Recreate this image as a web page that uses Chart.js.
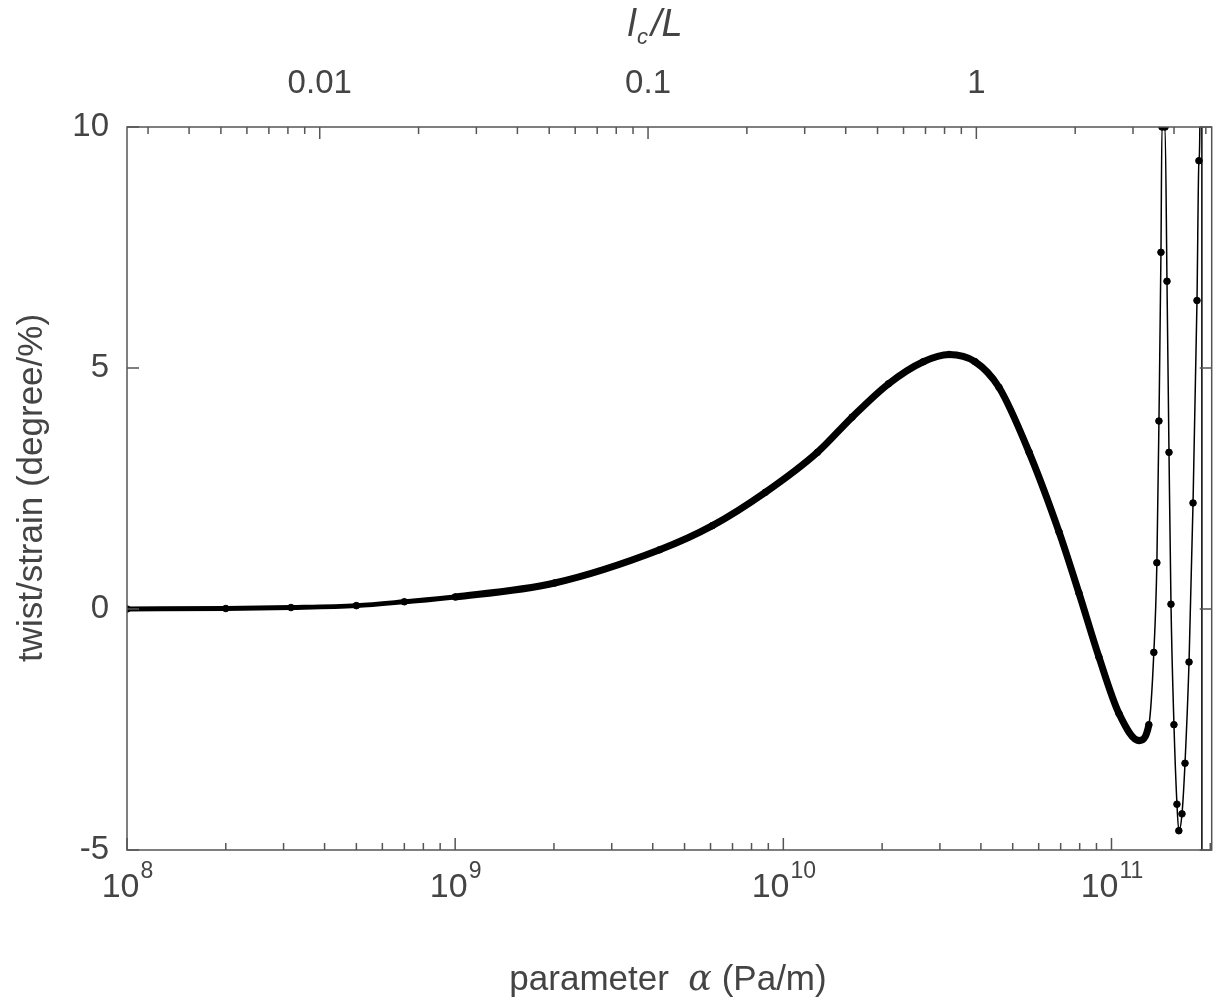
<!DOCTYPE html>
<html><head><meta charset="utf-8">
<script src="https://cdn.jsdelivr.net/npm/chart.js@4.4.0/dist/chart.umd.min.js"></script>
<style>html,body{margin:0;padding:0;background:#fff}#wrap{width:1216px;height:1002px}</style>
</head><body><div id="wrap"><canvas id="c" width="1216" height="1002"></canvas></div>
<script>
const alphaValues = [1e8,2e8,3.16e8,5e8,7e8,1e9,2.01e9,4.2e9,6.08e9,8.81e9,1.27e10,1.62e10,2.09e10,2.67e10,3.2e10,3.84e10,4.54e10,5.61e10,6.92e10,7.96e10,9.16e10,1.054e11,1.213e11,1.30e11,1.346e11,1.375e11,1.395e11,1.415e11,1.425e11,1.456e11,1.476e11,1.497e11,1.518e11,1.55e11,1.583e11,1.604e11,1.64e11,1.675e11,1.723e11,1.772e11,1.822e11,1.847e11,1.86e11,1.88e11,1.89e11];
const twistValues = [0,0.01,0.03,0.07,0.15,0.25,0.54,1.23,1.73,2.42,3.25,3.98,4.67,5.13,5.28,5.13,4.6,3.25,1.6,0.33,-1.0,-2.17,-2.73,-2.4,-0.9,0.96,3.9,7.4,10,10,6.8,3.25,0.1,-2.4,-4.05,-4.6,-4.25,-3.2,-1.1,2.2,6.4,9.3,10.2,200,-200];
const xMajorTicks = [1e8,1e9,1e10,1e11];
const xTickExp = ['8','9','10','11'];
const topTicks = [0.01,0.1,1];
const topTickLabels = ['0.01','0.1','1'];
const yTicks = [-5,0,5,10];
const yTickLabels = ['-5','0','5','10'];

const FONT = '"Liberation Sans", Arial, sans-serif';
const TXT = '#444';
const pts = alphaValues.map((a,i)=>({x:a,y:twistValues[i]}));

const deco = {
  id:'deco',
  afterDraw(ch){
    const c=ch.ctx, a=ch.chartArea, xs=ch.scales.x, ys=ch.scales.y, xt=ch.scales.x2;
    c.save();
    c.strokeStyle='#555'; c.lineWidth=1.5;
    c.strokeRect(a.left,a.top,a.right-a.left,a.bottom-a.top);
    for(let e=8;e<=11;e++){for(let m=1;m<=9;m++){const v=m*Math.pow(10,e); if(v>xs.max) break;
      const px=xs.getPixelForValue(v); const L=m===1?12:7;
      c.beginPath();c.moveTo(px,a.bottom);c.lineTo(px,a.bottom-L);c.stroke();}}
    for(let e=-3;e<=0;e++){for(let m=1;m<=9;m++){const v=m*Math.pow(10,e); if(v<xt.min||v>xt.max) continue;
      const px=xt.getPixelForValue(v); const L=m===1?12:7;
      c.beginPath();c.moveTo(px,a.top);c.lineTo(px,a.top+L);c.stroke();}}
    yTicks.forEach(v=>{const py=ys.getPixelForValue(v);
      c.beginPath();c.moveTo(a.left,py);c.lineTo(a.left+12,py);c.moveTo(a.right,py);c.lineTo(a.right-12,py);c.stroke();});
    c.fillStyle=TXT;
    xMajorTicks.forEach((v,i)=>{const px=xs.getPixelForValue(v);
      c.font='34px '+FONT; const w1=c.measureText('10').width;
      c.font='23px '+FONT; const w2=c.measureText(xTickExp[i]).width;
      const x0=px-(w1+w2)/2;
      c.textBaseline='alphabetic'; c.textAlign='left';
      c.font='34px '+FONT; c.fillText('10',x0,897);
      c.font='23px '+FONT; c.fillText(xTickExp[i],x0+w1+1,878);});
    c.font='33px '+FONT; c.textAlign='center'; c.textBaseline='middle';
    topTicks.forEach((v,i)=>c.fillText(topTickLabels[i],xt.getPixelForValue(v),84));
    c.textAlign='right';
    yTicks.forEach((v,i)=>c.fillText(yTickLabels[i],109,ys.getPixelForValue(v)));
    c.textAlign='left'; c.textBaseline='alphabetic';
    c.font='35px '+FONT; const t1='parameter  ';
    let w=c.measureText(t1).width;
    c.font='italic 35px "DejaVu Serif", serif'; const wa=c.measureText('α').width;
    c.font='35px '+FONT; const t2=' (Pa/m)'; const w3=c.measureText(t2).width;
    let x0=668-(w+wa+w3)/2;
    c.fillText(t1,x0,990);
    c.font='italic 35px "DejaVu Serif", serif'; c.fillText('α',x0+w,990);
    c.font='35px '+FONT; c.fillText(t2,x0+w+wa,990);
    c.font='italic 38px '+FONT; const wl=c.measureText('l').width;
    c.font='italic 22px '+FONT; const wc=c.measureText('c').width;
    c.font='italic 38px '+FONT; const wL=c.measureText('/L').width;
    x0=655-(wl+wc+wL+4)/2;
    c.fillText('l',x0,36); c.font='italic 22px '+FONT; c.fillText('c',x0+wl+1,44);
    c.font='italic 38px '+FONT; c.fillText('/L',x0+wl+wc+4,36);
    c.translate(32,488); c.rotate(-Math.PI/2); c.textAlign='center'; c.textBaseline='middle';
    c.font='35px '+FONT; c.fillText('twist/strain (degree/%)',0,0);
    c.restore();
  }
};

new Chart(document.getElementById('c'),{
  type:'line',
  data:{datasets:[{data:pts,borderColor:'#000',backgroundColor:'#000',pointRadius:3.3,pointHoverRadius:3.3,
    tension:0.35,cubicInterpolationMode:'monotone',
    segment:{borderWidth:ctx=>ctx.p0.parsed.x<1.25e11?(ctx.p0.parsed.x<1e9?5:7):1.5}}]},
  options:{responsive:false,animation:false,events:[],
    layout:{padding:{left:0,right:3,top:0,bottom:0}},
    plugins:{legend:{display:false},tooltip:{enabled:false}},
    scales:{
      x:{type:'logarithmic',min:1e8,max:2.02e11,position:'bottom',grid:{display:false},border:{display:false},
        ticks:{display:false},afterFit:s=>{s.height=152;}},
      x2:{type:'logarithmic',min:0.002588,max:5.21,position:'top',grid:{display:false},border:{display:false},
        ticks:{display:false},afterFit:s=>{s.height=127;}},
      y:{min:-5,max:10,grid:{display:false},border:{display:false},ticks:{display:false},
        afterFit:s=>{s.width=127;}}
    }},
  plugins:[deco]
});
</script></body></html>
